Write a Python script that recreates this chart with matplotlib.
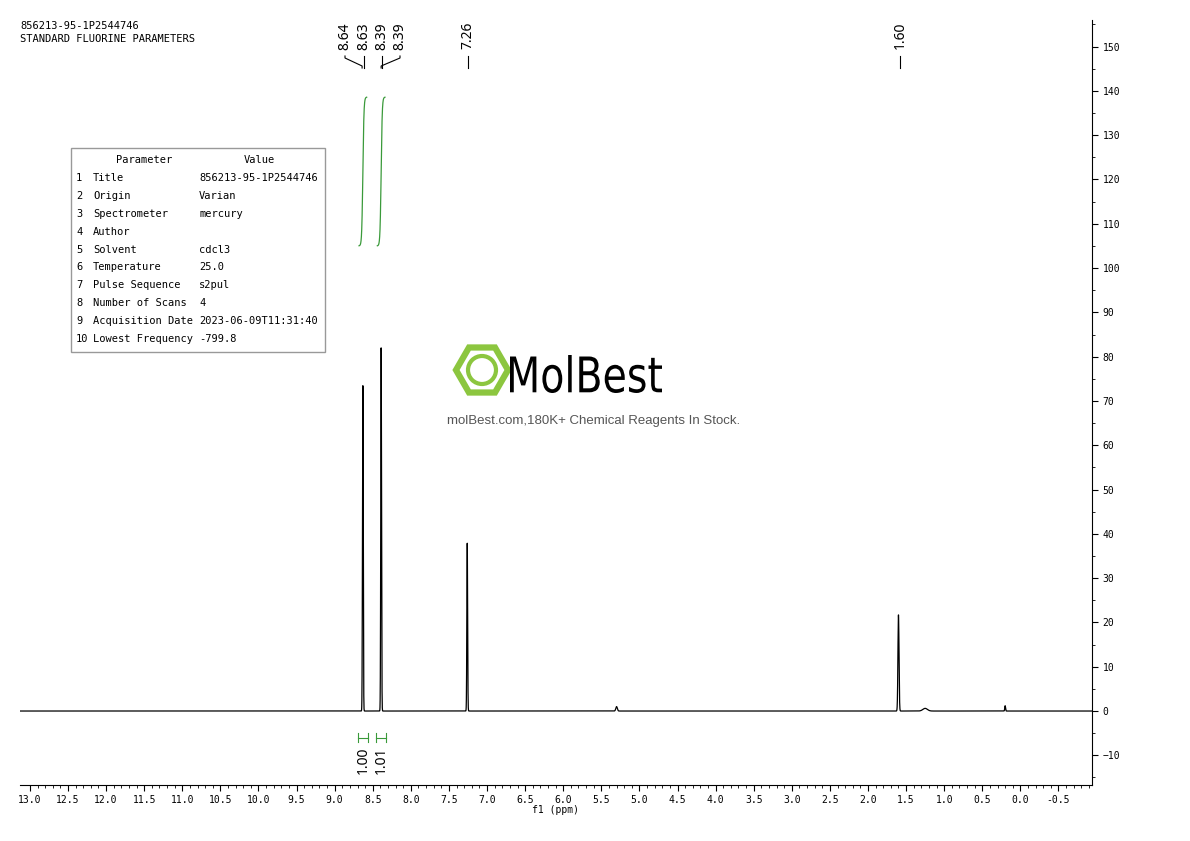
import numpy as np
import matplotlib
matplotlib.use('Agg')
import matplotlib.pyplot as plt
from matplotlib.patches import RegularPolygon, Circle, Rectangle, PathPatch
from matplotlib.textpath import TextPath
from matplotlib.transforms import Affine2D
from matplotlib.font_manager import FontProperties

# Peak data (ppm, height)
peak_ppm = [8.63, 8.39, 7.26, 1.60, 5.30, 0.20, 1.25]
peak_height = [73.5, 82.0, 37.9, 21.7, 1.0, 1.2, 0.6]
peak_width = [0.005, 0.005, 0.005, 0.007, 0.01, 0.005, 0.03]

label_text = ['8.64', '8.63', '8.39', '8.39', '7.26', '1.60']
label_ppm = [8.64, 8.63, 8.39, 8.39, 7.26, 1.60]
label_px = [345, 364, 382, 400, 468, 900]

integral_start = [8.68, 8.44]
integral_end = [8.58, 8.34]
integral_values = ['1.00', '1.01']

params = ['Title', 'Origin', 'Spectrometer', 'Author', 'Solvent', 'Temperature',
          'Pulse Sequence', 'Number of Scans', 'Acquisition Date', 'Lowest Frequency']
values = ['856213-95-1P2544746', 'Varian', 'mercury', '', 'cdcl3', '25.0',
          's2pul', '4', '2023-06-09T11:31:40', '-799.8']

MONO = 'DejaVu Sans Mono'
W, H = 1190, 841
fig = plt.figure(figsize=(W / 100, H / 100), dpi=100)
x0, x1 = 20, 1092
y0, y1 = 20, 785
ax = fig.add_axes([x0 / W, 1 - y1 / H, (x1 - x0) / W, (y1 - y0) / H])

xlim = (13.13, -0.94)
ylim = (-16.7, 156.0)
ax.set_xlim(*xlim)
ax.set_ylim(*ylim)

x = np.linspace(13.13, -0.94, 30000)
y = np.zeros_like(x)
for p, h, w in zip(peak_ppm, peak_height, peak_width):
    y += h * np.exp(-0.5 * ((x - p) / w)**2)
ax.plot(x, y, color='black', lw=0.9)

# integral curves
for s, e in zip(integral_start, integral_end):
    xi = np.linspace(s, e, 200)
    t = (s - xi) / (s - e)
    yi = 105 + 33.6 * (1 / (1 + np.exp(-(t - 0.5) * 14)))
    ax.plot(xi, yi, color='#3a9a3a', lw=0.9)
    m = (s + e) / 2
    ax.plot([m + 0.07, m - 0.07], [-6, -6], color='#3a9a3a', lw=0.8)
    ax.plot([m + 0.07] * 2, [-7.1, -4.9], color='#3a9a3a', lw=0.8)
    ax.plot([m - 0.07] * 2, [-7.1, -4.9], color='#3a9a3a', lw=0.8)
for s, e, v in zip(integral_start, integral_end, integral_values):
    ax.text((s + e) / 2, -8, v, rotation=90, ha='center', va='top',
            fontsize=10, family='Noto Sans')

for side in ['top', 'left']:
    ax.spines[side].set_visible(False)
ax.yaxis.tick_right()
ax.set_yticks(np.arange(-10, 151, 10))
ax.set_yticks(np.arange(-15, 156, 5), minor=True)
ax.set_xticks(np.arange(-0.5, 13.01, 0.5))
ax.set_xticks(np.arange(-0.9, 13.1, 0.1), minor=True)
ax.set_xticklabels(['%.1f' % v for v in np.arange(-0.5, 13.01, 0.5)])
ax.tick_params(labelsize=7, length=4, width=0.8)
ax.tick_params(which='minor', length=2, width=0.6)
for lab in ax.get_xticklabels() + ax.get_yticklabels():
    lab.set_family(MONO)
ax.set_xlabel('f1 (ppm)', fontsize=7, family=MONO, labelpad=0)

def fx(ppm):
    return x0 + (xlim[0] - ppm) / (xlim[0] - xlim[1]) * (x1 - x0)

# peak labels
for t, p, px in zip(label_text, label_ppm, label_px):
    fig.text(px / W, 1 - 22 / H, t, rotation=90, ha='center', va='top',
             fontsize=10, family='Noto Sans')
    pk = fx(p) if abs(fx(p) - px) > 4 else px
    fig.add_artist(plt.Line2D([px / W, px / W, pk / W, pk / W],
                              [1 - 56 / H, 1 - 58 / H, 1 - 66 / H, 1 - 68 / H],
                              color='black', lw=0.8))

fig.text(20 / W, 1 - 21 / H, '856213-95-1P2544746\nSTANDARD FLUORINE PARAMETERS',
         ha='left', va='top', fontsize=7.5, family=MONO, linespacing=1.35)

# parameter table
fig.add_artist(Rectangle((71 / W, 1 - 352 / H), 254 / W, 204 / H,
                         transform=fig.transFigure, fill=False, ec='#999999', lw=1))
fig.text(144 / W, 1 - 160 / H, 'Parameter', ha='center', va='center',
         fontsize=7.5, family=MONO)
fig.text(259 / W, 1 - 160 / H, 'Value', ha='center', va='center',
         fontsize=7.5, family=MONO)
for i, (p, v) in enumerate(zip(params, values)):
    yy = 1 - (178 + i * 17.9) / H
    fig.text(76 / W, yy, str(i + 1), ha='left', va='center', fontsize=7.5, family=MONO)
    fig.text(93 / W, yy, p, ha='left', va='center', fontsize=7.5, family=MONO)
    fig.text(199 / W, yy, v, ha='left', va='center', fontsize=7.5, family=MONO)

# logo
fig.add_artist(RegularPolygon((482, H - 370), 6, radius=26, orientation=np.pi / 2,
                              transform=None, fill=False, ec='#8cc63f', lw=4.5))
fig.add_artist(Circle((482, H - 370), 14, transform=None, fill=False, ec='#8cc63f', lw=3))
tp = TextPath((0, 0), 'MolBest', size=50, prop=FontProperties(family='DejaVu Sans'))
bb = tp.get_extents()
sx = 152 / bb.width
sy = 38 / bb.height
tr = Affine2D().translate(-bb.x0, -bb.y0).scale(sx, sy).translate(510, H - 393)
fig.add_artist(PathPatch(tr.transform_path(tp), transform=None, fc='black', ec='none'))
fig.text(594 / W, 1 - 421 / H, 'molBest.com,180K+ Chemical Reagents In Stock.',
         ha='center', va='center', fontsize=9.5, color='#555555', family='Liberation Sans')

fig.savefig('out.png', dpi=100)
